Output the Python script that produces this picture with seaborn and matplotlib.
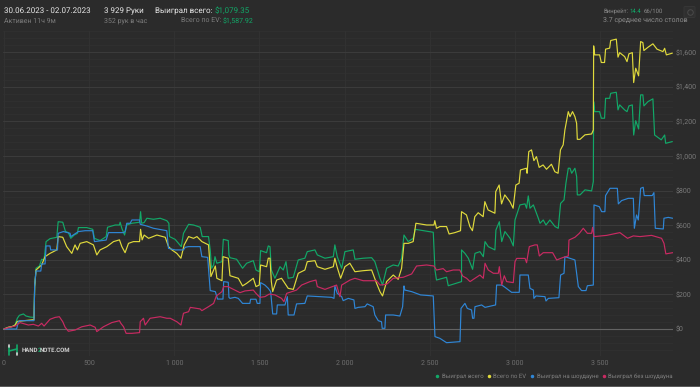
import matplotlib
matplotlib.use('Agg')
import matplotlib.pyplot as plt
from matplotlib.lines import Line2D
from matplotlib.patches import FancyBboxPatch, Rectangle
from matplotlib.ticker import FuncFormatter, MultipleLocator
import seaborn as sns

BG = '#2b2b2b'
GREEN = '#12a868'
YELLOW = '#e0da3c'
BLUE = '#2f86d6'
RED = '#c92a62'

total_x = [0,25,45,65,78,90,114,129,153,176,180,188,208,221,235,247,270,310,318,345,361,378,392,412,431,437,486,521,531,564,600,608,653,678,682,692,708,721,751,796,802,808,823,839,878,917,956,968,972,1005,1041,1054,1084,1113,1152,1164,1201,1211,1219,1231,1239,1250,1280,1288,1317,1321,1327,1366,1401,1425,1464,1480,1499,1507,1542,1552,1562,1570,1591,1621,1640,1656,1669,1699,1728,1767,1781,1826,1840,1885,1934,1943,1957,1983,2002,2051,2061,2110,2159,2178,2208,2223,2247,2286,2315,2335,2349,2374,2403,2415,2521,2531,2540,2599,2609,2687,2687,2707,2727,2752,2766,2795,2815,2825,2844,2883,2889,2909,2923,2942,2972,2991,3001,3030,3060,3069,3079,3089,3109,3138,3148,3167,3183,3206,3236,3255,3269,3289,3300,3314,3324,3334,3353,3363,3367,3383,3412,3451,3461,3463,3469,3498,3508,3527,3533,3557,3563,3596,3606,3616,3645,3659,3670,3690,3698,3710,3727,3739,3752,3758,3782,3811,3821,3860,3880,3886,3925]
total_y = [0,10,13,23,62,79,87,75,69,67,245,351,364,403,399,505,522,530,620,617,563,557,524,543,553,586,586,576,524,511,534,588,601,601,617,582,543,601,611,617,678,611,615,640,634,640,626,611,534,518,476,553,605,601,588,534,534,457,351,370,418,380,389,518,511,428,412,403,351,380,395,341,331,453,441,480,476,341,293,360,341,389,293,299,399,409,447,457,428,409,418,486,418,351,447,457,403,409,412,389,293,254,351,370,364,409,543,505,524,576,559,341,283,299,250,274,457,437,409,345,437,447,418,505,476,457,572,620,505,563,524,480,630,717,723,698,769,698,717,640,611,630,601,630,592,582,726,746,842,929,929,900,929,881,775,775,804,798,852,1314,1256,1256,1218,1218,1333,1333,1362,1368,1266,1295,1266,1256,1289,1295,1121,1204,1156,1353,1353,1289,1314,1330,1121,1093,1121,1073,1083]

ev_x = [0,25,50,65,78,176,180,188,221,241,270,310,318,345,368,398,417,431,447,486,525,545,564,604,643,678,692,711,731,760,796,802,811,823,849,898,947,966,986,1015,1039,1058,1084,1113,1133,1162,1201,1215,1241,1250,1280,1286,1317,1325,1327,1376,1401,1425,1464,1480,1499,1507,1542,1552,1562,1570,1578,1601,1630,1669,1699,1728,1767,1781,1826,1840,1885,1934,1943,1957,1977,2002,2031,2061,2110,2159,2188,2208,2223,2247,2286,2315,2335,2349,2374,2403,2419,2482,2525,2530,2540,2560,2599,2614,2648,2681,2687,2716,2736,2751,2765,2785,2814,2824,2843,2883,2888,2908,2922,2941,2971,2990,3006,3025,3033,3068,3072,3082,3098,3112,3127,3143,3166,3186,3215,3235,3254,3268,3284,3294,3314,3324,3339,3353,3363,3367,3383,3412,3451,3461,3463,3469,3498,3508,3527,3533,3557,3563,3596,3606,3616,3645,3659,3670,3690,3698,3710,3727,3739,3752,3758,3782,3811,3835,3870,3880,3890,3925]
ev_y = [0,10,15,23,44,54,245,341,370,418,437,457,534,530,476,437,486,457,495,505,486,428,457,476,505,515,476,441,495,505,505,576,515,543,524,543,530,476,457,437,409,486,534,524,534,505,486,303,364,293,279,418,409,331,308,293,249,264,293,245,254,370,360,409,409,274,216,283,293,235,229,322,341,389,395,360,345,360,409,356,293,360,380,331,337,341,264,216,191,274,312,287,351,495,495,505,611,601,601,626,582,592,592,549,557,568,678,659,592,568,649,672,649,736,688,669,794,832,723,775,736,698,832,842,919,929,900,1025,1035,973,996,934,948,923,952,909,900,1035,1064,1150,1256,1227,1256,1227,1189,1096,1096,1122,1127,1150,1636,1584,1584,1540,1540,1617,1623,1667,1675,1571,1597,1574,1545,1590,1597,1424,1507,1463,1661,1655,1609,1628,1648,1617,1603,1622,1584,1594]

sd_x = [0,74,84,94,176,180,188,216,221,241,247,270,274,314,318,349,388,392,437,476,521,531,600,613,702,711,721,741,751,796,800,839,878,956,966,1005,1054,1064,1084,1152,1162,1196,1211,1241,1254,1286,1290,1317,1321,1327,1356,1376,1401,1444,1448,1480,1487,1503,1507,1532,1552,1566,1578,1601,1605,1650,1664,1669,1703,1718,1767,1781,1924,1938,1943,1957,1983,1992,2022,2055,2061,2080,2120,2133,2168,2178,2198,2217,2221,2237,2241,2286,2325,2341,2349,2354,2394,2446,2521,2531,2560,2599,2678,2684,2707,2721,2746,2752,2760,2766,2805,2825,2887,2893,2923,2942,2981,3026,3030,3079,3089,3109,3112,3124,3177,3183,3197,3259,3269,3289,3294,3353,3363,3373,3392,3418,3426,3461,3465,3496,3510,3529,3533,3559,3602,3608,3627,3666,3696,3702,3715,3725,3739,3754,3760,3807,3817,3825,3872,3876,3901,3927]
sd_y = [0,0,42,48,48,254,335,335,376,376,480,480,457,457,553,563,553,534,563,568,568,505,514,557,557,563,611,611,630,630,605,595,582,568,466,457,457,472,476,476,418,414,222,216,173,173,274,270,183,177,183,177,148,148,172,172,148,148,268,254,235,216,87,87,139,139,187,81,81,145,148,191,183,177,249,206,187,164,177,168,119,125,129,145,129,81,48,42,4,4,81,81,75,129,249,225,216,197,191,-44,-54,-79,-73,119,148,119,110,62,62,129,139,125,139,254,254,241,212,212,312,312,235,225,177,191,187,162,177,181,312,322,418,399,322,245,222,222,250,254,717,707,678,678,771,813,813,723,742,755,755,582,659,630,813,819,771,771,788,582,578,640,645,640]

nsd_x = [0,25,65,94,123,143,172,202,221,235,270,300,325,345,359,378,417,457,506,535,545,584,633,678,686,702,717,751,796,800,819,829,858,917,956,976,1015,1039,1054,1084,1094,1152,1162,1201,1231,1247,1280,1290,1317,1327,1356,1386,1415,1464,1480,1503,1532,1558,1591,1630,1644,1660,1718,1748,1797,1832,1840,1885,1953,1973,1983,2032,2061,2110,2188,2208,2247,2286,2345,2394,2423,2482,2525,2540,2579,2599,2638,2677,2694,2717,2737,2766,2795,2815,2825,2844,2874,2903,2909,2923,2938,2952,2991,3001,3011,3060,3069,3085,3118,3132,3144,3167,3222,3246,3285,3314,3318,3353,3379,3402,3426,3451,3457,3465,3539,3617,3662,3696,3735,3803,3862,3876,3887,3927]
nsd_y = [0,8,17,37,29,23,27,17,33,17,56,67,71,42,10,-13,-6,13,23,10,-15,13,37,48,33,13,-25,-25,-21,42,62,23,62,71,62,62,42,23,91,100,125,116,106,129,148,191,216,245,245,239,225,210,220,225,206,183,187,202,197,177,158,206,225,254,274,283,245,229,254,187,254,283,293,279,279,254,258,293,299,318,364,370,364,341,349,331,341,341,306,293,274,293,312,293,380,341,322,322,360,254,308,274,268,389,408,408,383,476,486,486,422,441,441,399,414,422,514,530,553,582,553,553,588,534,541,557,524,538,534,541,524,495,434,441]

series_names = ['Выиграл всего', 'Всего по EV', 'Выиграл на шоудауне', 'Выиграл без шоудауна']
hand_ticks = [0, 500, 1000, 1500, 2000, 2500, 3000, 3500]

sns.set_theme(style='dark', rc={'axes.facecolor': BG, 'figure.facecolor': BG})
plt.rcParams['font.family'] = ['Roboto', 'DejaVu Sans']
plt.rcParams['text.hinting'] = 'no_hinting'
plt.rcParams['text.hinting_factor'] = 1

W, H = 700, 387
fig = plt.figure(figsize=(W / 100, H / 100), dpi=100)
ax = fig.add_axes([3 / W, 1 - 356 / H, 670 / W, 325 / H])

sns.lineplot(x=total_x, y=total_y, ax=ax, color=GREEN, lw=0.85, estimator=None, sort=False, label=series_names[0])
sns.lineplot(x=ev_x, y=ev_y, ax=ax, color=YELLOW, lw=0.85, estimator=None, sort=False, label=series_names[1])
sns.lineplot(x=sd_x, y=sd_y, ax=ax, color=BLUE, lw=0.85, estimator=None, sort=False, label=series_names[2])
sns.lineplot(x=nsd_x, y=nsd_y, ax=ax, color=RED, lw=0.85, estimator=None, sort=False, label=series_names[3])

ax.set_xlim(-6, 3929)
ax.set_ylim(-156, 1722)
ax.set_xticks(hand_ticks)
ax.xaxis.set_major_formatter(FuncFormatter(lambda v, p: f'{int(v):,}'.replace(',', ' ')))
ax.yaxis.set_major_locator(MultipleLocator(200))
ax.yaxis.set_minor_locator(MultipleLocator(40))
ax.yaxis.set_major_formatter(FuncFormatter(lambda v, p: f'${int(v):,}'))
ax.yaxis.tick_right()
ax.tick_params(axis='x', length=0, labelsize=4.8, labelcolor='#6f6f6f', pad=3)
ax.tick_params(axis='y', which='both', length=0, labelsize=4.8, labelcolor='#7a7a7a', pad=2)
ax.grid(True, which='major', axis='y', color='#3c3c3c', lw=0.7)
ax.grid(True, which='minor', axis='y', color='#323232', lw=0.5)
ax.grid(True, which='major', axis='x', color='#343434', lw=0.5)
ax.axhline(0, color='#636363', lw=0.8, zorder=1.5)
ax.set_xlabel('')
ax.set_ylabel('')
for s in ax.spines.values():
    s.set_visible(False)

handles = [Line2D([], [], ls='', marker='o', ms=1.5, color=c) for c in [GREEN, YELLOW, BLUE, RED]]
leg = ax.legend(handles, series_names, ncol=4, frameon=False, loc='lower right',
                bbox_to_anchor=(1.0, -0.072), fontsize=4.4, labelcolor='#7f7f7f',
                handlelength=0.4, handletextpad=0.5, columnspacing=0.75, borderpad=0, borderaxespad=0)


def t(x, y, s, size, color, ha='left', weight='normal'):
    return fig.text(x / W, 1 - y / H, s, fontsize=size, color=color, ha=ha, va='center', weight=weight)


t(4, 11, '30.06.2023 - 02.07.2023', 6.0, '#e8e8e8')
t(4, 21, 'Активен 11ч 9м', 4.8, '#7c7c7c')
t(104, 11, '3 929 Руки', 6.0, '#e8e8e8')
t(104, 21, '352 рук в час', 4.8, '#7c7c7c')
t(213, 11, 'Выиграл всего:', 6.0, '#e8e8e8', ha='right')
t(215, 11, '$1,079.35', 6.0, GREEN)
t(221, 21, 'Всего по EV:', 4.8, '#7c7c7c', ha='right')
t(223, 21, '$1,587.92', 4.8, GREEN)
t(603, 11, 'Винрейт:', 4.5, '#8a8a8a')
t(630, 11, '14.4', 4.5, GREEN)
t(643.5, 11, '66/100', 4.5, '#8a8a8a')
t(603, 20, '3.7 среднее число столов', 5.0, '#8a8a8a')

# logo and settings button
fig.canvas.draw()
lx = 22
for part, col in [('HAND', '#d0d0d0'), ('2', GREEN), ('NOTE.COM', '#d0d0d0')]:
    tx = t(lx, 350, part, 4.2, col, weight='bold')
    lx = tx.get_window_extent(fig.canvas.get_renderer()).x1 - 1.0
fig.add_artist(Line2D([9 / W, 17 / W], [1 - 351 / H, 1 - 349 / H], color=GREEN, lw=1.2))
fig.add_artist(Line2D([9 / W, 9 / W], [1 - 347 / H, 1 - 355 / H], color=GREEN, lw=1.2))
fig.add_artist(Line2D([17 / W, 17 / W], [1 - 345 / H, 1 - 353 / H], color=GREEN, lw=1.2))
fig.add_artist(Line2D([9 / W, 9 / W], [1 - 345 / H, 1 - 347 / H], color='#d8d8d8', lw=1.2))
fig.add_artist(Line2D([17 / W, 17 / W], [1 - 353 / H, 1 - 355 / H], color='#d8d8d8', lw=1.2))
fig.add_artist(FancyBboxPatch((684 / W, 1 - 17.5 / H), 11 / W, 11 / H, boxstyle='round,pad=0,rounding_size=0.002',
                              transform=fig.transFigure, fc='#2f2f2f', ec='#383838', lw=0.6))
fig.add_artist(Line2D([689.5 / W], [1 - 12 / H], ls='', marker='o', ms=4, mfc='none', mec='#4a4a4a', mew=0.7))
fig.add_artist(Rectangle((0, 0), 1, 1.5 / H, transform=fig.transFigure, fc='#5a5a5a', ec='none'))

fig.savefig('out.png', dpi=100, facecolor=BG)
